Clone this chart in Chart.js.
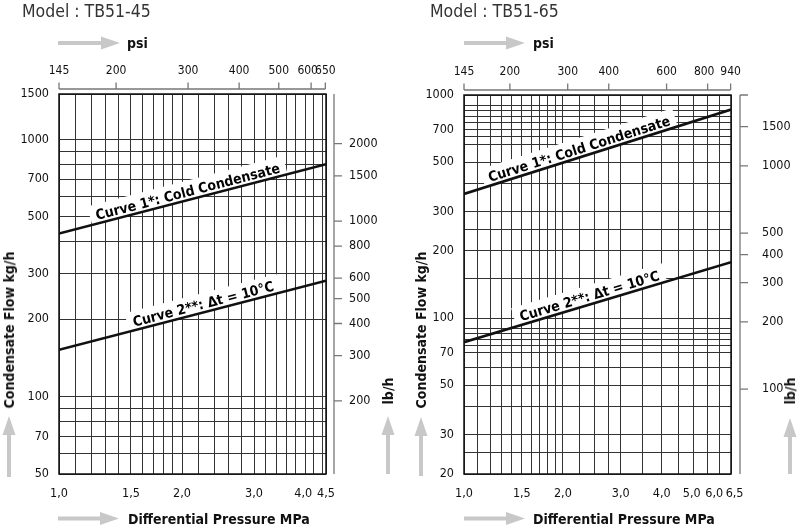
<!DOCTYPE html>
<html>
<head>
<meta charset="utf-8">
<script src="https://cdn.jsdelivr.net/npm/chart.js@4.4.1/dist/chart.umd.min.js"></script>
<style>
    body { margin: 0; background: #fff; }
    #wrap {
        position: relative; width: 800px; height: 528px; overflow: hidden;
        font-family: 'DejaVu Sans Condensed', 'DejaVu Sans', sans-serif;
        color: #111;
    }
    .box { position: absolute; top: 0; width: 400px; height: 528px; }
    .txt { position: absolute; white-space: nowrap; line-height: 16px; }
    .model { font-size: 17.5px; line-height: 20px; color: #333; }
    .b { font-weight: bold; font-size: 14px; }
    .rot { transform: translate(-50%, -50%) rotate(-90deg); }
</style>
</head>
<body>
<div id="wrap">
    <div class="box" style="left:0"><canvas id="c45" width="400" height="528"></canvas></div>
    <div class="box" style="left:400px"><canvas id="c65" width="400" height="528"></canvas></div>

    <div class="txt model" style="left:22px; top:1px">Model : TB51-45</div>
    <div class="txt model" style="left:430px; top:1px">Model : TB51-65</div>
    <div class="txt b" style="left:127px; top:35px">psi</div>
    <div class="txt b" style="left:533px; top:35px">psi</div>
    <div class="txt b" style="left:128px; top:511px">Differential Pressure MPa</div>
    <div class="txt b" style="left:533px; top:511px">Differential Pressure MPa</div>
    <div class="txt b rot" style="left:9px; top:330px">Condensate Flow kg/h</div>
    <div class="txt b rot" style="left:421px; top:330px">Condensate Flow kg/h</div>
    <div class="txt b rot" style="left:388px; top:391px">lb/h</div>
    <div class="txt b rot" style="left:790px; top:391px">lb/h</div>
</div>

<script>
const FONT = "'DejaVu Sans Condensed', 'DejaVu Sans', sans-serif";

// ---- Model TB51-45 ----
const curveMpa45 = [1.0, 4.5];
const cold45 = [430, 800];      // kg/h, curve 1
const hot45 = [152, 282];       // kg/h, curve 2
const mpaLabels45 = [1.0, 1.5, 2.0, 3.0, 4.0, 4.5];
const mpaGrid45 = [1.0, 1.1, 1.2, 1.3, 1.4, 1.5, 1.6, 1.7, 1.8, 1.9, 2.0, 2.2, 2.4, 2.6, 2.8, 3.0,
    3.2, 3.4, 3.6, 3.8, 4.0, 4.2, 4.4, 4.5];
const psiLabels45 = [145, 200, 300, 400, 500, 600, 650];
const kgLabels45 = [50, 70, 100, 200, 300, 500, 700, 1000, 1500];
const kgGrid45 = [50, 60, 70, 80, 90, 100, 200, 300, 400, 500, 600, 700, 800, 900, 1000, 1500];
const lbLabels45 = [200, 300, 400, 500, 600, 800, 1000, 1500, 2000];

// ---- Model TB51-65 ----
const curveMpa65 = [1.0, 6.5];
const cold65 = [360, 860];
const hot65 = [78, 178];
const mpaLabels65 = [1.0, 1.5, 2.0, 3.0, 4.0, 5.0, 6.0, 6.5];
const mpaGrid65 = [1.0, 1.1, 1.2, 1.3, 1.4, 1.5, 1.6, 1.7, 1.8, 1.9, 2.0, 2.25, 2.5, 2.75, 3.0,
    3.5, 4.0, 4.5, 5.0, 5.5, 6.0, 6.5];
const psiLabels65 = [145, 200, 300, 400, 600, 800, 940];
const kgLabels65 = [20, 30, 50, 70, 100, 200, 300, 500, 700, 1000];
const kgGrid65 = [20, 25, 30, 40, 50, 60, 70, 75, 80, 85, 90, 100, 150, 200, 250, 300, 400, 500,
    600, 650, 700, 750, 800, 850, 900, 1000];
const lbLabels65 = [100, 200, 300, 400, 500, 1000, 1500];

const curveNames = ['Curve 1*: Cold Condensate', 'Curve 2**: \u0394t = 10\u00b0C'];

const PSI_PER_MPA = 145;
const LB_PER_KG = 2.08;

function drawArrow(ctx, x1, y1, x2, y2) {
    const ang = Math.atan2(y2 - y1, x2 - x1);
    const head = 19, half = 6.5;
    const len = Math.hypot(x2 - x1, y2 - y1);
    ctx.save();
    ctx.translate(x1, y1);
    ctx.rotate(ang);
    ctx.fillStyle = '#c8c8c8';
    ctx.fillRect(0, -2, len - head + 1, 4);
    ctx.beginPath();
    ctx.moveTo(len - head, -half);
    ctx.lineTo(len, 0);
    ctx.lineTo(len - head, half);
    ctx.closePath();
    ctx.fill();
    ctx.restore();
}

// secondary axis lines (psi on top, lb/h on the right), frame and arrows
const sideAxes = {
    id: 'sideAxes',
    afterDraw(chart, args, opts) {
        const { ctx, chartArea: a, scales } = chart;
        ctx.save();
        ctx.strokeStyle = '#777';
        ctx.lineWidth = 1.3;

        const psi = scales.psi;
        const ty = a.top - opts.topGap;
        const xs = psi.ticks.map(t => psi.getPixelForValue(t.value));
        ctx.beginPath();
        ctx.moveTo(xs[0], ty);
        ctx.lineTo(xs[xs.length - 1], ty);
        xs.forEach(x => { ctx.moveTo(x, ty); ctx.lineTo(x, ty - 6.5); });
        ctx.stroke();

        const lb = scales.lb;
        const rx = a.right + opts.rightGap;
        ctx.beginPath();
        ctx.moveTo(rx, a.top);
        ctx.lineTo(rx, a.bottom);
        lb.ticks.forEach(t => {
            const y = lb.getPixelForValue(t.value);
            ctx.moveTo(rx, y); ctx.lineTo(rx + 8, y);
        });
        if (opts.cap) { ctx.moveTo(rx, a.top); ctx.lineTo(rx + 8, a.top); }
        ctx.stroke();

        ctx.strokeStyle = '#111';
        ctx.lineWidth = 1.5;
        ctx.strokeRect(a.left, a.top, a.right - a.left, a.bottom - a.top);

        opts.arrows.forEach(p => drawArrow(ctx, p[0], p[1], p[2], p[3]));
        ctx.restore();
    }
};

// rotated curve names on a white patch, drawn under the curves
const curveLabels = {
    id: 'curveLabels',
    beforeDatasetsDraw(chart, args, opts) {
        const { ctx, scales: { x, y } } = chart;
        ctx.save();
        ctx.font = 'bold 14px ' + FONT;
        opts.items.forEach(item => {
            const pts = chart.data.datasets[item.ds].data;
            const x1 = x.getPixelForValue(pts[0].x), y1 = y.getPixelForValue(pts[0].y);
            const x2 = x.getPixelForValue(pts[1].x), y2 = y.getPixelForValue(pts[1].y);
            const px = x.getPixelForValue(item.at);
            const py = y1 + (px - x1) / (x2 - x1) * (y2 - y1);
            const w = ctx.measureText(item.text).width;
            ctx.save();
            ctx.translate(px, py);
            ctx.rotate(Math.atan2(y2 - y1, x2 - x1));
            ctx.fillStyle = '#fff';
            ctx.fillRect(-w / 2 - 6, -19, w + 12, 19);
            ctx.fillStyle = '#000';
            ctx.textAlign = 'center';
            ctx.textBaseline = 'alphabetic';
            ctx.fillText(item.text, 0, -3.5);
            ctx.restore();
        });
        ctx.restore();
    }
};

// labels that sit too close to a neighbour get nudged with spaces
function padLabel(s, nudge) {
    if (!nudge) return s;
    const sp = ' '.repeat(Math.abs(nudge));
    return nudge < 0 ? s + sp : sp + s;
}

function makeChart(id, m) {
    const ctx = document.getElementById(id).getContext('2d');
    const lineStyle = { borderColor: '#111', borderWidth: 2.6, pointRadius: 0, fill: false, tension: 0 };

    return new Chart(ctx, {
        type: 'line',
        data: {
            datasets: [
                { ...lineStyle, data: m.mpa.map((v, i) => ({ x: v, y: m.cold[i] })) },
                { ...lineStyle, data: m.mpa.map((v, i) => ({ x: v, y: m.hot[i] })) }
            ]
        },
        options: {
            responsive: false,
            animation: false,
            layout: { padding: 0 },
            plugins: {
                legend: { display: false },
                tooltip: { enabled: false },
                sideAxes: { topGap: 5, rightGap: m.rightGap, cap: m.cap, arrows: m.arrows },
                curveLabels: {
                    items: [
                        { ds: 0, at: m.labelAt[0], text: curveNames[0] },
                        { ds: 1, at: m.labelAt[1], text: curveNames[1] }
                    ]
                }
            },
            scales: {
                x: {
                    type: 'logarithmic', position: 'bottom',
                    min: m.mpa[0], max: m.mpa[1],
                    afterBuildTicks: s => { s.ticks = m.mpaGrid.map(v => ({ value: v })); },
                    afterFit: s => { s.height = 54; },
                    ticks: {
                        autoSkip: false, maxRotation: 0, padding: 12, color: '#111',
                        font: { size: 12.5 },
                        callback: v => m.mpaLabels.includes(v)
                            ? padLabel(v.toFixed(1).replace('.', ','), (m.mpaNudge || {})[v]) : ''
                    },
                    grid: { color: '#333', lineWidth: 1, drawTicks: false },
                    border: { display: false }
                },
                psi: {
                    type: 'logarithmic', position: 'top',
                    min: PSI_PER_MPA * m.mpa[0], max: PSI_PER_MPA * m.mpa[1],
                    afterBuildTicks: s => { s.ticks = m.psiLabels.map(v => ({ value: v })); },
                    afterFit: s => { s.height = m.top; },
                    ticks: {
                        autoSkip: false, maxRotation: 0, padding: 16, color: '#111',
                        font: { size: 12 },
                        callback: v => padLabel(String(v), (m.psiNudge || {})[v])
                    },
                    grid: { display: false, drawTicks: false },
                    border: { display: false }
                },
                y: {
                    type: 'logarithmic', position: 'left',
                    min: m.kgRange[0], max: m.kgRange[1],
                    afterBuildTicks: s => { s.ticks = m.kgGrid.map(v => ({ value: v })); },
                    afterFit: s => { s.width = m.left; },
                    ticks: {
                        autoSkip: false, padding: 10, color: '#111',
                        font: { size: 12.5 },
                        callback: v => m.kgLabels.includes(v) ? String(v) : ''
                    },
                    grid: { color: '#333', lineWidth: 1, drawTicks: false },
                    border: { display: false }
                },
                lb: {
                    type: 'logarithmic', position: 'right',
                    min: LB_PER_KG * m.kgRange[0], max: LB_PER_KG * m.kgRange[1],
                    afterBuildTicks: s => { s.ticks = m.lbLabels.map(v => ({ value: v })); },
                    afterFit: s => { s.width = 400 - m.right; },
                    ticks: {
                        autoSkip: false, padding: m.lbPad, color: '#111',
                        font: { size: 12.5 },
                        callback: v => String(v)
                    },
                    grid: { display: false, drawTicks: false },
                    border: { display: false }
                }
            }
        },
        plugins: [sideAxes, curveLabels]
    });
}

Chart.defaults.font.family = FONT;

makeChart('c45', {
    mpa: curveMpa45, cold: cold45, hot: hot45,
    mpaLabels: mpaLabels45, mpaGrid: mpaGrid45, psiLabels: psiLabels45,
    kgLabels: kgLabels45, kgGrid: kgGrid45, lbLabels: lbLabels45,
    kgRange: [50, 1500],
    labelAt: [2.09, 2.28],
    mpaNudge: { 4.0: -1 }, psiNudge: { 600: -2 },
    left: 59, right: 326, top: 94, rightGap: 8, lbPad: 23, cap: false,
    arrows: [[58, 43, 120, 43], [58, 518.5, 119, 518.5], [9, 477, 9, 416], [388, 474, 388, 416]]
});

makeChart('c65', {
    mpa: curveMpa65, cold: cold65, hot: hot65,
    mpaLabels: mpaLabels65, mpaGrid: mpaGrid65, psiLabels: psiLabels65,
    kgLabels: kgLabels65, kgGrid: kgGrid65, lbLabels: lbLabels65,
    kgRange: [20, 1000],
    labelAt: [2.28, 2.45],
    mpaNudge: { 5.0: -1, 6.0: -3, 6.5: 2 }, psiNudge: { 800: -2 },
    left: 64, right: 331, top: 95, rightGap: 9, lbPad: 31, cap: true,
    arrows: [[64, 43, 125, 43], [64, 518.5, 125, 518.5], [21, 476, 21, 417], [390, 474, 390, 418]]
});
</script>
</body>
</html>
